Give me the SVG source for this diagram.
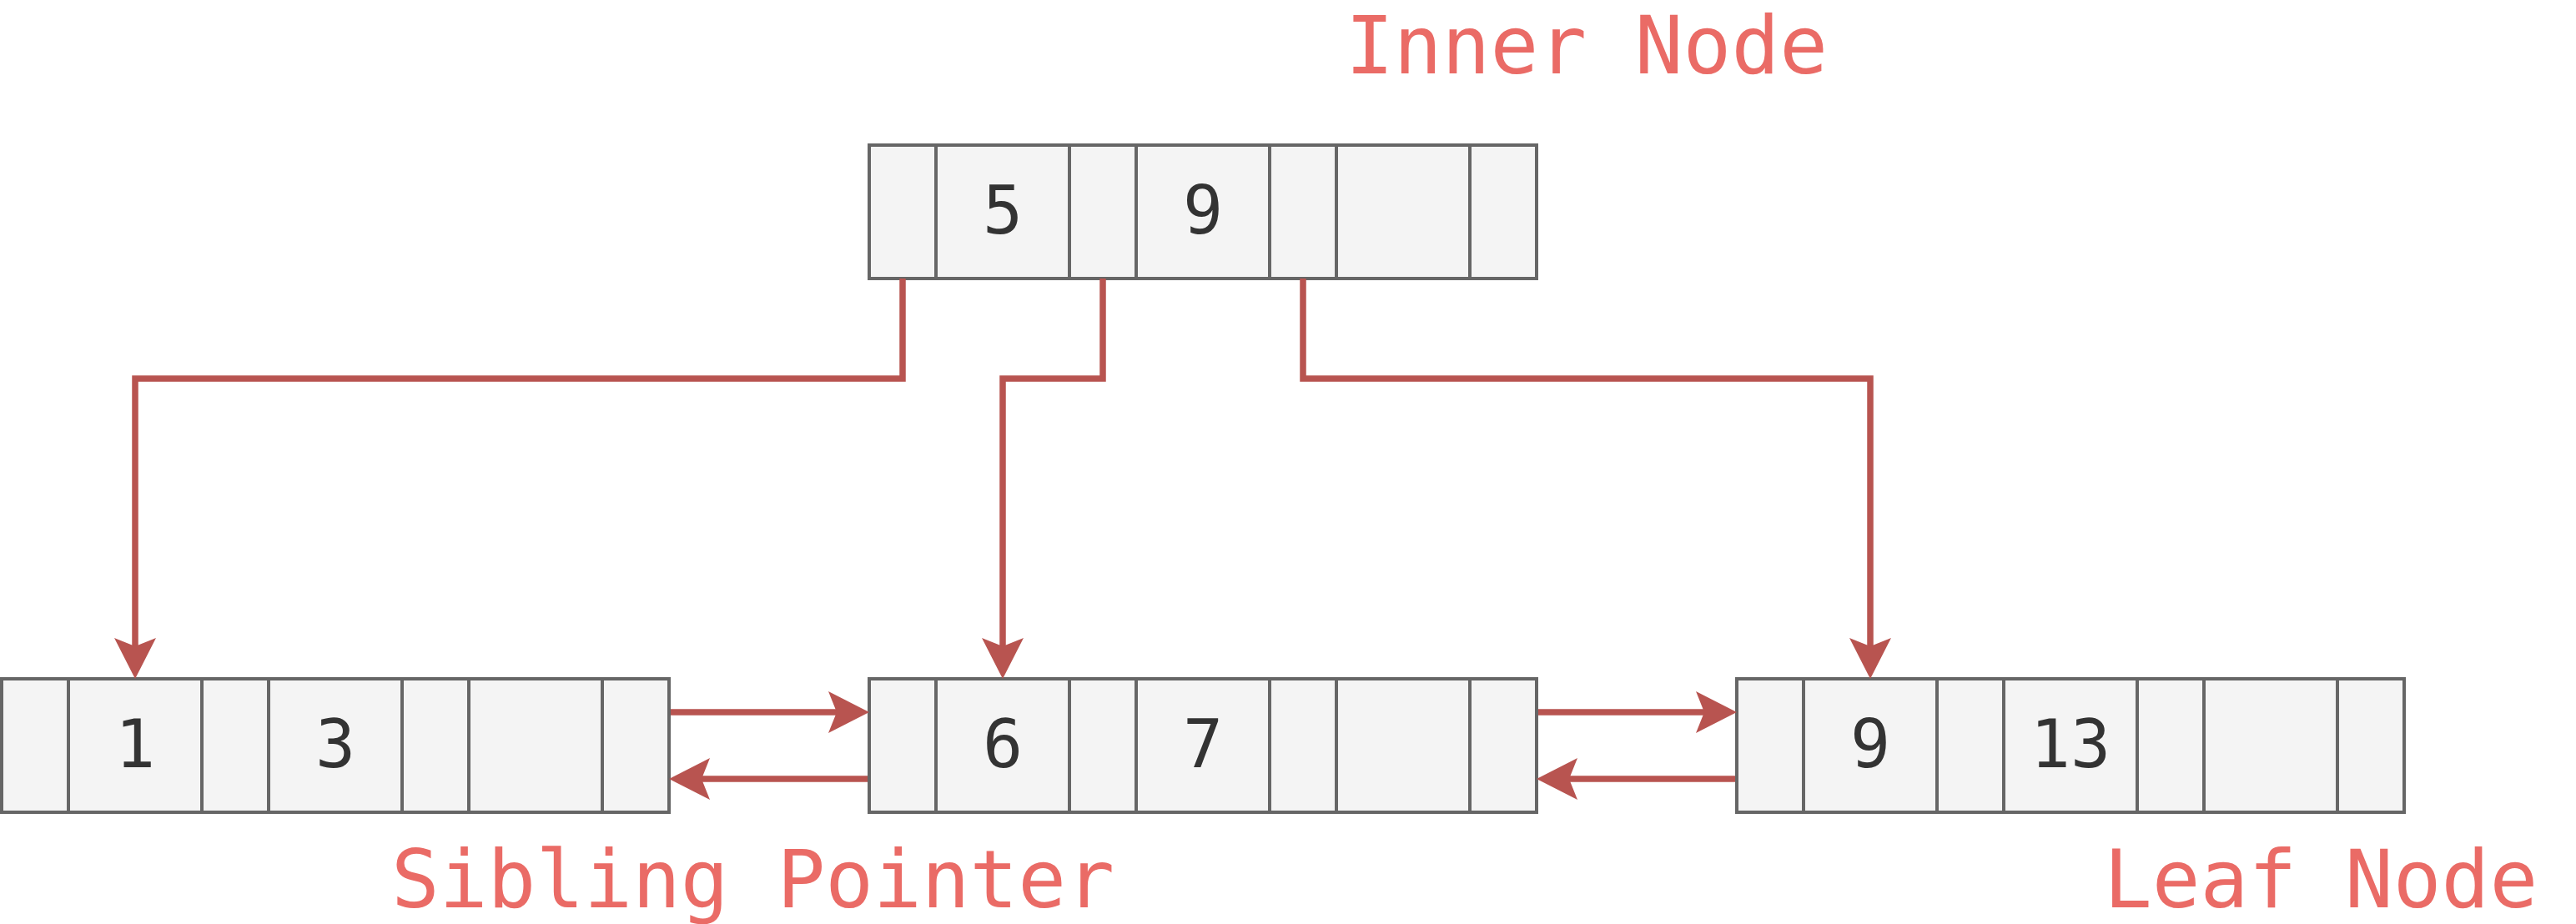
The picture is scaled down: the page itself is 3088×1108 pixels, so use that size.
<svg xmlns="http://www.w3.org/2000/svg" width="3088" height="1108" viewBox="0 0 3088 1108">
  <style>
    .cell { fill: #f4f4f4; stroke: #666666; stroke-width: 4; }
    .key { font-family: "DejaVu Sans Mono", "Liberation Mono", monospace; font-size: 80px; fill: #333333; text-anchor: middle; }
    .label { font-family: "DejaVu Sans Mono", "Liberation Mono", monospace; font-size: 96px; fill: #EA6B66; }
    .conn { fill: none; stroke: #B85450; stroke-width: 7.5; marker-end: url(#arrow); }
  </style>
  <defs>
    <marker id="arrow" markerUnits="userSpaceOnUse" viewBox="-52 -28 56 56" markerWidth="56" markerHeight="56" refX="-36" refY="0" orient="auto" overflow="visible">
      <path d="M0,0 L-49,-25 L-39,0 L-49,25 Z" fill="#B85450"/>
    </marker>
  </defs>

  <rect width="3088" height="1108" fill="#ffffff"/>

  <g id="inner-node">
    <rect class="cell" x="1042" y="174" width="80" height="160"/>
    <rect class="cell" x="1122" y="174" width="160" height="160"/>
    <rect class="cell" x="1282" y="174" width="80" height="160"/>
    <rect class="cell" x="1362" y="174" width="160" height="160"/>
    <rect class="cell" x="1522" y="174" width="80" height="160"/>
    <rect class="cell" x="1602" y="174" width="160" height="160"/>
    <rect class="cell" x="1762" y="174" width="80" height="160"/>
    <text class="key" x="1202" y="280">5</text>
    <text class="key" x="1442" y="280">9</text>
  </g>

  <g id="leaf-1">
    <rect class="cell" x="2" y="814" width="80" height="160"/>
    <rect class="cell" x="82" y="814" width="160" height="160"/>
    <rect class="cell" x="242" y="814" width="80" height="160"/>
    <rect class="cell" x="322" y="814" width="160" height="160"/>
    <rect class="cell" x="482" y="814" width="80" height="160"/>
    <rect class="cell" x="562" y="814" width="160" height="160"/>
    <rect class="cell" x="722" y="814" width="80" height="160"/>
    <text class="key" x="162" y="920">1</text>
    <text class="key" x="402" y="920">3</text>
  </g>

  <g id="leaf-2">
    <rect class="cell" x="1042" y="814" width="80" height="160"/>
    <rect class="cell" x="1122" y="814" width="160" height="160"/>
    <rect class="cell" x="1282" y="814" width="80" height="160"/>
    <rect class="cell" x="1362" y="814" width="160" height="160"/>
    <rect class="cell" x="1522" y="814" width="80" height="160"/>
    <rect class="cell" x="1602" y="814" width="160" height="160"/>
    <rect class="cell" x="1762" y="814" width="80" height="160"/>
    <text class="key" x="1202" y="920">6</text>
    <text class="key" x="1442" y="920">7</text>
  </g>

  <g id="leaf-3">
    <rect class="cell" x="2082" y="814" width="80" height="160"/>
    <rect class="cell" x="2162" y="814" width="160" height="160"/>
    <rect class="cell" x="2322" y="814" width="80" height="160"/>
    <rect class="cell" x="2402" y="814" width="160" height="160"/>
    <rect class="cell" x="2562" y="814" width="80" height="160"/>
    <rect class="cell" x="2642" y="814" width="160" height="160"/>
    <rect class="cell" x="2802" y="814" width="80" height="160"/>
    <text class="key" x="2242" y="920">9</text>
    <text class="key" x="2482" y="920">13</text>
  </g>

  <g id="connectors">
    <path class="conn" d="M1082,334 V454 H162 V778"/>
    <path class="conn" d="M1322,334 V454 H1202 V778"/>
    <path class="conn" d="M1562,334 V454 H2242 V778"/>
    <path class="conn" d="M804,854 H1006"/>
    <path class="conn" d="M1040,934 H838"/>
    <path class="conn" d="M1844,854 H2046"/>
    <path class="conn" d="M2080,934 H1878"/>
  </g>

  <g id="labels">
    <text id="label-inner" class="label" x="1613" y="88">Inner Node</text>
    <text id="label-sibling" class="label" x="469" y="1088">Sibling Pointer</text>
    <text id="label-leaf" class="label" x="2522" y="1088">Leaf Node</text>
  </g>
</svg>
